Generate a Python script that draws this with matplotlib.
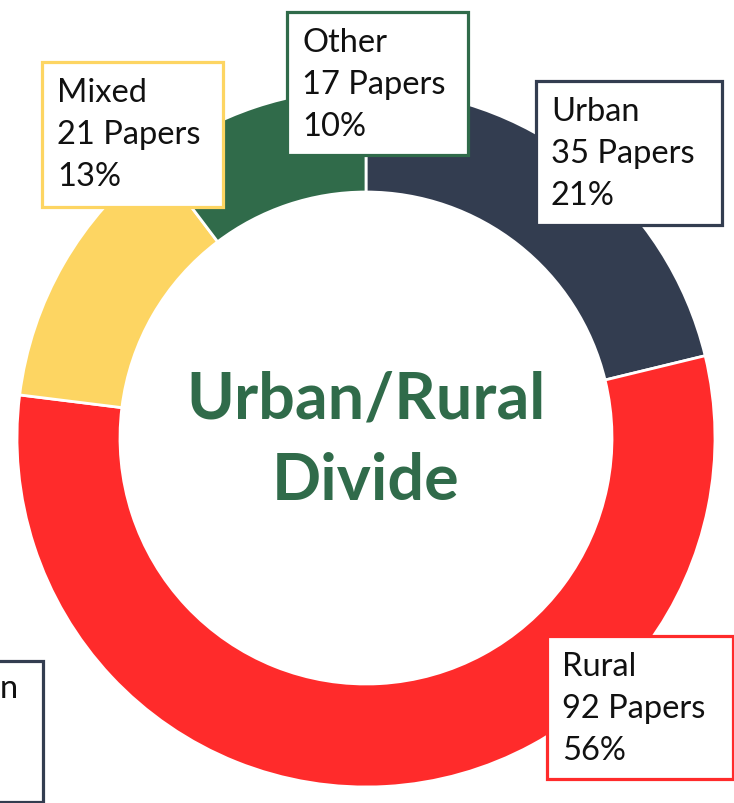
import matplotlib
matplotlib.use('Agg')
import matplotlib.pyplot as plt
from matplotlib.patches import Rectangle

W, H = 734, 804

categories = ['Urban', 'Rural', 'Mixed', 'Other']
papers = [35, 92, 21, 17]
colors = ['#333D50', '#FF2B2B', '#FDD562', '#306B4A']
center_title = ['Urban/Rural', 'Divide']

# label box placement in pixels (left, top, width, height), top-down coords
boxes = {
    'Urban': (536, 82, 186, 144),
    'Rural': (547, 637, 186, 143),
    'Mixed': (42, 63, 181, 145),
    'Other': (287, 13, 181, 143),
}

plt.rcParams['font.family'] = ['Lato', 'DejaVu Sans']

fig = plt.figure(figsize=(W / 100, H / 100), dpi=100)
ax = fig.add_axes([0, 0, 1, 1])

cx, cy, R, r_in = 366, H - 439, 349, 246
ax.pie(papers, colors=colors, startangle=90, counterclock=False,
       center=(cx, cy), radius=R,
       wedgeprops=dict(width=R - r_in, edgecolor='white', linewidth=2))

ax.set_xlim(0, W)
ax.set_ylim(0, H)
ax.set_aspect('auto')
ax.axis('off')

green = '#306B4A'
ax.text(cx, H - 400, center_title[0], ha='center', va='center',
        fontsize=46.5, fontweight='bold', color=green)
ax.text(cx, H - 482, center_title[1], ha='center', va='center',
        fontsize=46.5, fontweight='bold', color=green)

total = sum(papers)
for cat, val, col in zip(categories, papers, colors):
    left, top, bw, bh = boxes[cat]
    ax.add_patch(Rectangle((left, H - top - bh), bw, bh, facecolor='white',
                           edgecolor=col, linewidth=2.3, zorder=5))
    lines = [cat, f'{val} Papers', f'{round(val / total * 100)}%']
    for i, line in enumerate(lines):
        ax.text(left + 15, H - (top + 39 + 42 * i), line, ha='left',
                va='baseline', fontsize=23.5, color='#111111', zorder=6)

# partial box cut off at bottom-left edge, only the tail of its label shows
ax.add_patch(Rectangle((-120, H - 803), 163, 141, facecolor='white',
                       edgecolor='#333D50', linewidth=2.3, zorder=5,
                       clip_on=False))
ax.text(0, H - 698, 'n', ha='left', va='baseline', fontsize=23.5,
        color='#111111', zorder=6)

fig.savefig('out.png', dpi=100)
